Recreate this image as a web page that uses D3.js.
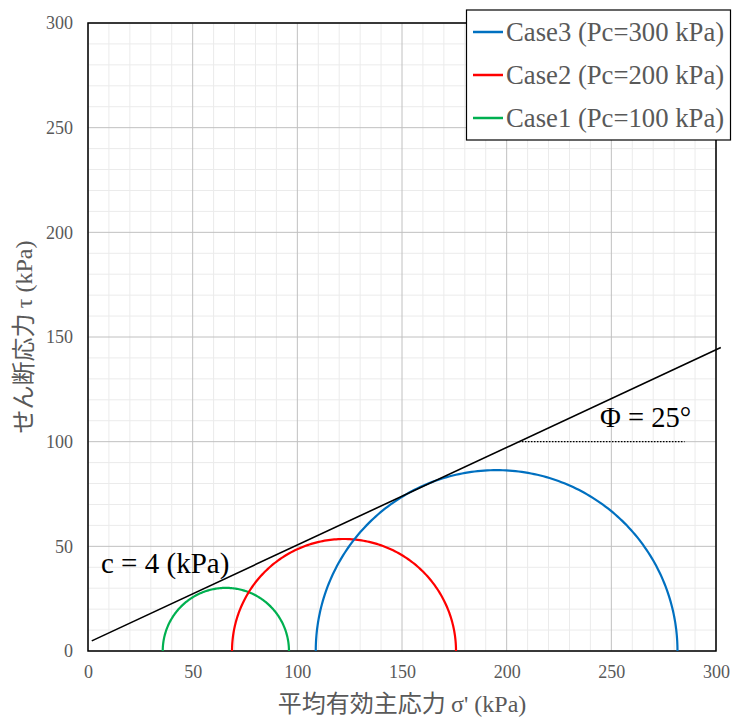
<!DOCTYPE html>
<html>
<head>
<meta charset="utf-8">
<script src="https://cdn.jsdelivr.net/npm/d3@7"></script>
<style>
  html, body { margin: 0; padding: 0; background: #fff; }
  svg { display: block; }
</style>
</head>
<body>
<svg id="chart" width="732" height="720"></svg>
<script>
// Mohr circles for three consolidation pressures, with the failure envelope
const caseNames = ["Case1 (Pc=100 kPa)", "Case2 (Pc=200 kPa)", "Case3 (Pc=300 kPa)"];
const caseColors = ["#00b050", "#ff0000", "#0070c0"];
const sigma3 = [35.7, 68.8, 108.8];   // minor principal stress (kPa)
const sigma1 = [96.0, 175.8, 281.6];  // major principal stress (kPa)

// failure envelope tau = c + sigma * tan(phi)
const cohesion = 4;        // kPa
const phiDeg = 25;         // degrees
const envelopeSigma = [1.8, 302.3];

// horizontal reference for the angle annotation
const angleRefTau = 100;
const angleRefEnd = 285;

const xTicks = [0, 50, 100, 150, 200, 250, 300];
const yTicks = [0, 50, 100, 150, 200, 250, 300];
const minorTicks = d3.range(0, 301, 10);

const svg = d3.select("#chart");
const m = { left: 88, top: 23, right: 716, bottom: 651 };

const x = d3.scaleLinear().domain([0, 300]).range([m.left, m.right]);
const y = d3.scaleLinear().domain([0, 300]).range([m.bottom, m.top]);

const serif = "'Liberation Serif', 'Times New Roman', serif";
const cjk = "'Noto Sans CJK JP', 'Noto Sans', sans-serif";
const gray = "#595959";

// minor grid
const minor = minorTicks.filter(d => d % 50 !== 0);
const grid = svg.append("g");
grid.selectAll("line.vx").data(minor).join("line")
  .attr("x1", d => x(d)).attr("x2", d => x(d))
  .attr("y1", m.top).attr("y2", m.bottom)
  .attr("stroke", "#ebebeb").attr("stroke-width", 1);
grid.selectAll("line.hy").data(minor).join("line")
  .attr("y1", d => y(d)).attr("y2", d => y(d))
  .attr("x1", m.left).attr("x2", m.right)
  .attr("stroke", "#ebebeb").attr("stroke-width", 1);

// major grid
const major = svg.append("g");
major.selectAll("line.mx").data(xTicks).join("line")
  .attr("x1", d => x(d)).attr("x2", d => x(d))
  .attr("y1", m.top).attr("y2", m.bottom)
  .attr("stroke", "#c0c0c0").attr("stroke-width", 1);
major.selectAll("line.my").data(yTicks).join("line")
  .attr("y1", d => y(d)).attr("y2", d => y(d))
  .attr("x1", m.left).attr("x2", m.right)
  .attr("stroke", "#c0c0c0").attr("stroke-width", 1);

// axes (labels only; frame drawn separately)
const xAxis = svg.append("g").attr("transform", `translate(0,${m.bottom})`)
  .call(d3.axisBottom(x).tickValues(xTicks).tickSize(0).tickPadding(14).tickFormat(d3.format("d")));
const yAxis = svg.append("g").attr("transform", `translate(${m.left},0)`)
  .call(d3.axisLeft(y).tickValues(yTicks).tickSize(0).tickPadding(15).tickFormat(d3.format("d")));
[xAxis, yAxis].forEach(g => {
  g.select(".domain").remove();
  g.selectAll("text").attr("fill", gray).attr("font-family", serif).attr("font-size", 18);
});

// plot frame
svg.append("rect")
  .attr("x", m.left).attr("y", m.top)
  .attr("width", m.right - m.left).attr("height", m.bottom - m.top)
  .attr("fill", "none").attr("stroke", "#000").attr("stroke-width", 1.5);

// Mohr circles (upper halves)
const arcLine = d3.line().x(p => x(p[0])).y(p => y(p[1]));
const angles = d3.range(0, 181, 1).map(a => a * Math.PI / 180);
svg.append("g").selectAll("path").data(caseNames.map((n, i) => i)).join("path")
  .attr("d", i => {
    const c = (sigma1[i] + sigma3[i]) / 2, r = (sigma1[i] - sigma3[i]) / 2;
    return arcLine(angles.map(t => [c + r * Math.cos(t), r * Math.sin(t)]));
  })
  .attr("fill", "none")
  .attr("stroke", i => caseColors[i])
  .attr("stroke-width", 2.2);

// failure envelope
const tanPhi = Math.tan(phiDeg * Math.PI / 180);
svg.append("path")
  .attr("d", arcLine(envelopeSigma.map(s => [s, cohesion + s * tanPhi])))
  .attr("fill", "none").attr("stroke", "#000").attr("stroke-width", 1.6);

// dotted horizontal reference for the friction angle
const refStart = (angleRefTau - cohesion) / tanPhi;
svg.append("path")
  .attr("d", arcLine([[refStart, angleRefTau], [angleRefEnd, angleRefTau]]))
  .attr("stroke", "#000").attr("stroke-width", 1.4).attr("stroke-dasharray", "1.5,1.5");

// annotations
svg.append("text")
  .attr("x", 101).attr("y", 573)
  .attr("font-family", serif).attr("font-size", 29).attr("fill", "#000")
  .text(`c = ${cohesion} (kPa)`);
svg.append("text")
  .attr("x", 600).attr("y", 427)
  .attr("font-family", serif).attr("font-size", 28.5).attr("fill", "#000")
  .text(`Φ = ${phiDeg}°`);

// axis titles
const xt = svg.append("text")
  .attr("x", (m.left + m.right) / 2).attr("y", 712)
  .attr("text-anchor", "middle").attr("fill", gray).attr("font-size", 24);
xt.append("tspan").attr("font-family", cjk).text("平均有効主応力 ");
xt.append("tspan").attr("font-family", serif).text("σ' (kPa)");

const yt = svg.append("text")
  .attr("transform", `translate(32,${(m.top + m.bottom) / 2}) rotate(-90)`)
  .attr("text-anchor", "middle").attr("fill", gray).attr("font-size", 24);
yt.append("tspan").attr("font-family", cjk).text("せん断応力 ");
yt.append("tspan").attr("font-family", serif).text("τ (kPa)");

// legend
const legend = svg.append("g");
legend.append("rect")
  .attr("x", 466.5).attr("y", 10).attr("width", 264).attr("height", 130)
  .attr("fill", "#fff").attr("stroke", "#000").attr("stroke-width", 1.2);
const order = [2, 1, 0];
const rows = legend.selectAll("g.row").data(order).join("g")
  .attr("transform", (d, k) => `translate(473,${32 + k * 43})`);
rows.append("line")
  .attr("x1", 0).attr("x2", 30).attr("y1", 0).attr("y2", 0)
  .attr("stroke", d => caseColors[d]).attr("stroke-width", 2.5);
rows.append("text")
  .attr("x", 33).attr("y", 0).attr("dy", "0.35em")
  .attr("font-family", serif).attr("font-size", 26.7).attr("fill", gray)
  .text(d => caseNames[d]);
</script>
</body>
</html>
